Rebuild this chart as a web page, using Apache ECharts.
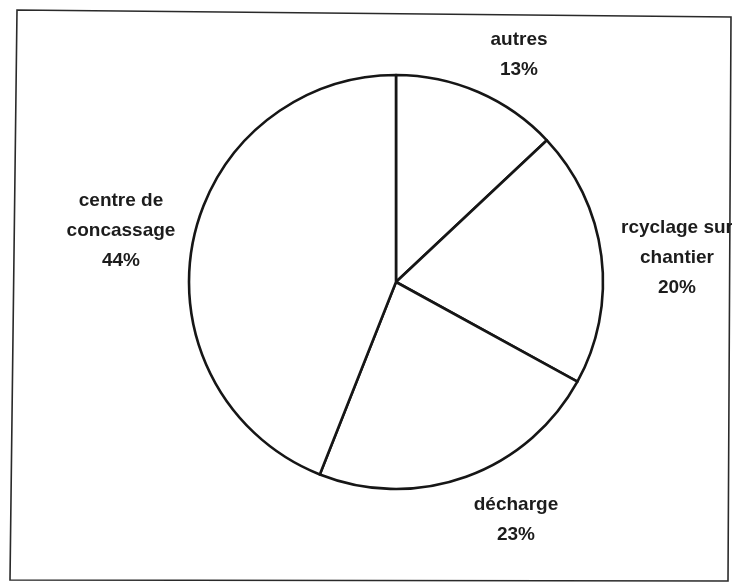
<!DOCTYPE html>
<html>
<head>
<meta charset="utf-8">
<script src="https://cdn.jsdelivr.net/npm/echarts@6/dist/echarts.min.js"></script>
<style>
  html, body { margin: 0; padding: 0; background: #ffffff; }
  #chart { width: 732px; height: 586px; }
</style>
</head>
<body>
<div id="chart"></div>
<script>
// Destinations of the material, in percent (clockwise from 12 o'clock)
const categories = ['autres', 'rcyclage sur\nchantier', 'décharge', 'centre de\nconcassage'];
const shares = [13, 20, 23, 44];

// Where each slice's caption sits (label centre, px)
const labelCentres = [[519, 55], [677, 258], [516, 520], [121, 231]];

const chart = echarts.init(document.getElementById('chart'), null, { renderer: 'canvas' });

const ink = '#161616';

chart.setOption({
  backgroundColor: '#ffffff',
  animation: false,
  graphic: [{
    type: 'polygon',
    silent: true,
    shape: { points: [[17, 10], [731, 17], [728, 581], [10, 580]] },
    style: { fill: 'none', stroke: '#2a2a2a', lineWidth: 1.6 }
  }],
  series: [{
    type: 'pie',
    center: [396, 282],
    radius: 207,
    startAngle: 90,
    clockwise: true,
    silent: true,
    avoidLabelOverlap: false,
    itemStyle: { color: '#ffffff', borderColor: ink, borderWidth: 2.6 },
    label: {
      show: true,
      position: 'outside',
      alignTo: 'none',
      bleedMargin: 0,
      overflow: 'none',
      formatter: p => p.name + '\n' + p.value + '%',
      fontFamily: '"Liberation Sans", Arial, sans-serif',
      fontSize: 19,
      fontWeight: 'bold',
      lineHeight: 30,
      color: '#1c1c1c',
      align: 'center'
    },
    labelLine: { show: false },
    labelLayout: p => ({
      x: labelCentres[p.dataIndex][0],
      y: labelCentres[p.dataIndex][1],
      align: 'center',
      verticalAlign: 'middle'
    }),
    data: categories.map((name, i) => ({ name, value: shares[i] }))
  }]
});
</script>
</body>
</html>
